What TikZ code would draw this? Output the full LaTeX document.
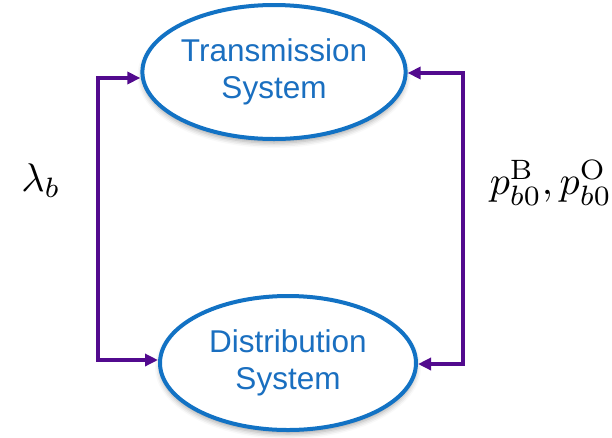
\documentclass[tikz,border=0pt]{standalone}
\usepackage[no-math]{fontspec}
\usepackage{graphicx}
\setmainfont{Liberation Sans}
\usetikzlibrary{shapes.geometric,arrows.meta,shadows.blur}
\definecolor{ellblue}{HTML}{1272C4}
\definecolor{txtblue}{HTML}{1A6FC0}
\definecolor{arrpurple}{HTML}{520A8E}
\tikzset{
  sysnode/.style={ellipse, draw=ellblue, line width=4pt, fill=white,
    minimum width=256pt, minimum height=134pt, inner sep=0pt,
    text=txtblue, align=center, font=\fontsize{31.5}{37}\selectfont,
    blur shadow={shadow xshift=0pt, shadow yshift=-4pt, shadow blur radius=5pt, shadow opacity=35}},
  link/.style={draw=arrpurple, line width=3.5pt, {Triangle[length=13pt,width=12pt]}-{Triangle[length=13pt,width=12pt]}},
  mathlbl/.style={inner sep=0pt}
}
\begin{document}
\begin{tikzpicture}[x=1pt,y=-1pt]
\useasboundingbox (0,0) rectangle (612,437);
\node[sysnode] (T) at (274,72) {Transmission\\System};
\node[sysnode] (D) at (288,363) {Distribution\\System};
\coordinate (L1) at (98,78);
\coordinate (L2) at (98,360);
\coordinate (R1) at (463,73);
\coordinate (R2) at (463,364);
\draw[link] (T.west |- L1) -- (L1) -- (L2) -- (D.west |- L2);
\draw[link] (T.east |- R1) -- (R1) -- (R2) -- (D.east |- R2);
\node[mathlbl] (lam) at (41,181) {\scalebox{4}{$\lambda_b$}};
\node[mathlbl, anchor=east] (pp) at (612,183) {\scalebox{4}{$p_{b0}^{\mathrm{B}},p_{b0}^{\mathrm{O}}$}};
\end{tikzpicture}
\end{document}
